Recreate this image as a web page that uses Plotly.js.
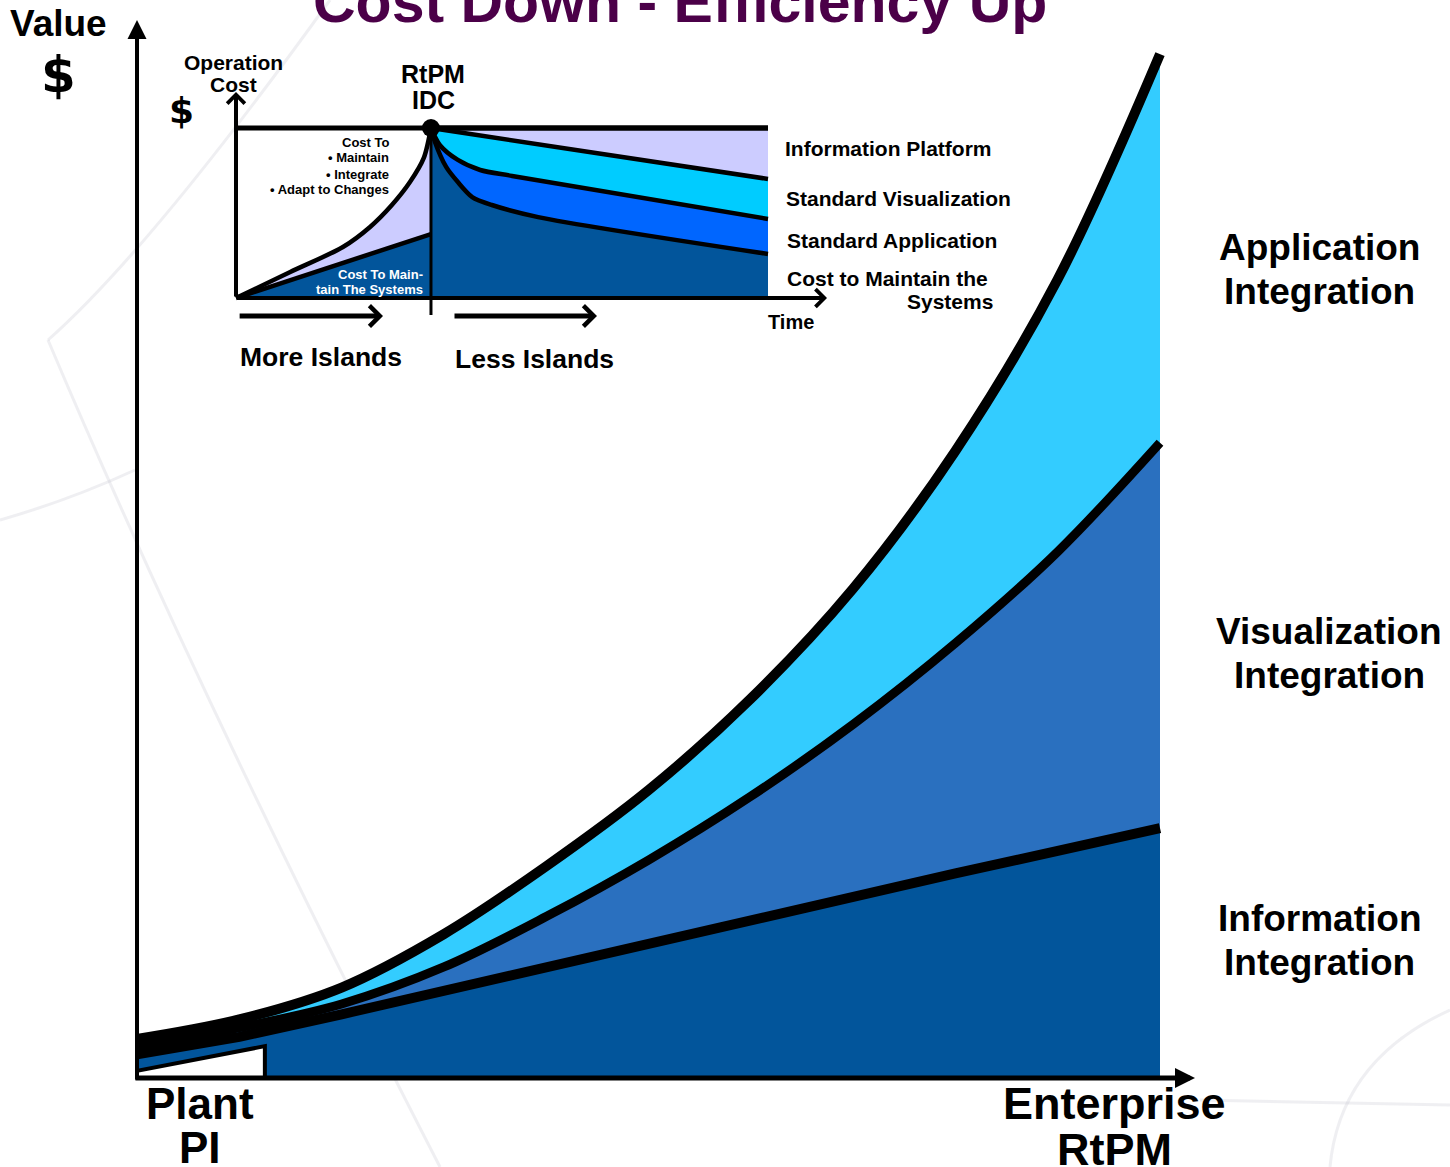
<!DOCTYPE html>
<html><head><meta charset="utf-8">
<script src="https://cdn.plot.ly/plotly-3.0.1.min.js"></script>
<style>html,body{margin:0;padding:0;background:#fff;}#chart{width:1450px;height:1167px;}</style>
</head><body><div id="chart"></div>
<script>
// ---------- Main chart data (x: 0 = Plant PI ... 100 = Enterprise RtPM, y: value) ----------
const mainX = [0, 10, 20, 30, 40, 50, 60, 70, 80, 90, 100];
const infoIntegration   = [2.3, 4.0, 6.2, 8.5, 10.8, 13.2, 15.4, 17.6, 19.9, 22.1, 24.3];
const visualIntegration = [3.0, 4.9, 7.2, 10.8, 15.7, 21.2, 27.4, 34.4, 42.3, 51.2, 61.8];
const appIntegration    = [3.8, 5.7, 8.8, 14.0, 20.6, 28.0, 36.9, 47.6, 61.0, 77.7, 99.6];
const plantBoxX = [0, 0, 12.5, 12.5, 0];
const plantBoxY = [0, 0.7, 3.1, 0, 0];

// ---------- Inset data (x: time, y: operation cost) ----------
const idcX = 36.65;
const leftCurveX = [0, 10.2, 20.1, 25.2, 29.3, 32.7, 35.3, 36.65];
const leftCurveY = [0, 15.3, 30, 41.8, 54.7, 68.2, 82.4, 100];
const leftBaseX = [0, 36.65];
const leftBaseY = [0, 37.6];
const platformX = [36.65, 100];
const platformY = [100, 70];
const stdVisX = [36.65, 38.3, 41.7, 45.9, 51.9, 100];
const stdVisY = [100, 90, 81.2, 75.3, 71.8, 46.5];
const stdAppX = [36.65, 37.4, 39.5, 41.7, 44.4, 48.1, 56.8, 100];
const stdAppY = [100, 91.8, 77.1, 68.2, 59.4, 54.7, 47.6, 25.9];
const ceilingX = [0, 100];
const ceilingY = [100, 100];

// ---------- geometry (pixel mapping of the two coordinate systems) ----------
const W = 1450, H = 1167;
const MX0 = 137, MXS = 10.23, MY0 = 1078, MYS = 10.28;   // main chart
const IX0 = 236, IXS = 5.32, IY0 = 298, IYS = 1.7;       // inset chart
const mx = p => (p - MX0) / MXS, my = p => (MY0 - p) / MYS;

const FONT = 'Liberation Sans, Arial, sans-serif';
const DARK = '#02559B', MID = '#2A70BF', LIGHT = '#33CCFF';
const CYAN = '#00CCFF', BRIGHT = '#0066FF', LAV = '#CCCCFF';

const traces = [
  // main chart
  {x: mainX, y: infoIntegration, mode: 'lines', fill: 'tozeroy', fillcolor: DARK,
   line: {color: '#000', width: 10}, hoverinfo: 'skip'},
  {x: mainX, y: visualIntegration, mode: 'lines', fill: 'tonexty', fillcolor: MID,
   line: {color: '#000', width: 9, shape: 'spline', smoothing: 1}, hoverinfo: 'skip'},
  {x: mainX, y: appIntegration, mode: 'lines', fill: 'tonexty', fillcolor: LIGHT,
   line: {color: '#000', width: 10, shape: 'spline', smoothing: 1}, hoverinfo: 'skip'},
  {x: plantBoxX, y: plantBoxY, mode: 'lines', fill: 'toself', fillcolor: '#fff',
   line: {color: '#000', width: 4}, hoverinfo: 'skip'},
  // inset
  {x: leftBaseX, y: leftBaseY, xaxis: 'x2', yaxis: 'y2', mode: 'lines', fill: 'tozeroy', fillcolor: DARK,
   line: {color: '#000', width: 4.5}, hoverinfo: 'skip'},
  {x: leftCurveX, y: leftCurveY, xaxis: 'x2', yaxis: 'y2', mode: 'lines', fill: 'tonexty', fillcolor: LAV,
   line: {color: '#000', width: 4.5, shape: 'spline', smoothing: 0.8}, hoverinfo: 'skip'},
  {x: stdAppX, y: stdAppY, xaxis: 'x2', yaxis: 'y2', mode: 'lines', fill: 'tozeroy', fillcolor: DARK,
   line: {color: '#000', width: 4.5, shape: 'spline', smoothing: 0.8}, hoverinfo: 'skip'},
  {x: stdVisX, y: stdVisY, xaxis: 'x2', yaxis: 'y2', mode: 'lines', fill: 'tonexty', fillcolor: BRIGHT,
   line: {color: '#000', width: 4.5, shape: 'spline', smoothing: 0.8}, hoverinfo: 'skip'},
  {x: platformX, y: platformY, xaxis: 'x2', yaxis: 'y2', mode: 'lines', fill: 'tonexty', fillcolor: CYAN,
   line: {color: '#000', width: 4.5}, hoverinfo: 'skip'},
  {x: [idcX, ceilingX[1]], y: [ceilingY[0], ceilingY[1]], xaxis: 'x2', yaxis: 'y2', mode: 'lines', fill: 'tonexty', fillcolor: LAV,
   line: {color: '#000', width: 5}, hoverinfo: 'skip'},
  {x: ceilingX, y: ceilingY, xaxis: 'x2', yaxis: 'y2', mode: 'lines',
   line: {color: '#000', width: 5}, hoverinfo: 'skip'},
  {x: [idcX, idcX], y: [100, -10], xaxis: 'x2', yaxis: 'y2', mode: 'lines',
   line: {color: '#000', width: 3}, hoverinfo: 'skip'},
  {x: [idcX], y: [100], xaxis: 'x2', yaxis: 'y2', mode: 'markers',
   marker: {color: '#000', size: 18}, hoverinfo: 'skip'}
];

function T(text, px, py, size, opt) {
  opt = opt || {};
  return {
    text: '<b>' + text + '</b>', x: px / W, y: 1 - py / H, xref: 'paper', yref: 'paper',
    xanchor: opt.anchor || 'center', yanchor: 'middle', showarrow: false,
    font: {family: opt.family || FONT, size: size, color: opt.color || '#000'}
  };
}
function arrow(xr, yr, x, y, ax, ay, head, width, size) {
  return {x: x, y: y, ax: ax, ay: ay, xref: xr, yref: yr, axref: xr, ayref: yr, text: '',
    showarrow: true, arrowhead: head, arrowwidth: width, arrowsize: size, arrowcolor: '#000', standoff: 0};
}
const L = {anchor: 'left'}, R = {anchor: 'right'};
const DJ = {family: 'DejaVu Sans, sans-serif'};

const annotations = [
  // axes arrows
  arrow('x', 'y', 0, my(20), 0, -0.3, 2, 4, 0.95),
  arrow('x', 'y', mx(1195), 0, -0.3, 0, 2, 5, 0.8),
  arrow('x2', 'y2', 0, (IY0 - 92) / IYS, 0, 0, 4, 4, 0.85),
  arrow('x2', 'y2', (827 - IX0) / IXS, 0, 0, 0, 4, 4, 0.85),
  arrow('x2', 'y2', (383 - IX0) / IXS, -10.6, 0.4, -10.6, 4, 5, 0.8),
  arrow('x2', 'y2', (597 - IX0) / IXS, -10.6, (453 - IX0) / IXS, -10.6, 4, 5, 0.8),
  // title & main labels
  T('Cost Down - Efficiency Up', 680, 2, 59, {color: '#4B0048'}),
  T('Value', 58, 24, 37),
  T('$', 58, 75, 50, DJ),
  T('Application', 1319, 247, 37), T('Integration', 1319, 292, 37),
  T('Visualization', 1329, 631, 37), T('Integration', 1329, 675, 37),
  T('Information', 1319, 918, 37), T('Integration', 1319, 962, 37),
  T('Plant', 200, 1103, 44), T('PI', 200, 1147, 44),
  T('Enterprise', 1114, 1103, 45), T('RtPM', 1114, 1149, 45),
  // inset labels
  T('Operation', 233, 63, 21), T('Cost', 233, 84, 21),
  T('$', 182, 110, 36, DJ),
  T('RtPM', 433, 74, 25), T('IDC', 433, 100, 25),
  T('Cost To', 391, 142, 13, R), T('• Maintain', 391, 158, 13, R),
  T('• Integrate', 391, 174, 13, R), T('• Adapt to Changes', 391, 190, 13, R),
  T('Cost To Main-', 425, 274, 13, {anchor: 'right', color: '#fff'}),
  T('tain The Systems', 425, 289, 13, {anchor: 'right', color: '#fff'}),
  T('Information Platform', 783, 148, 21, L),
  T('Standard Visualization', 784, 199, 21, L),
  T('Standard Application', 785, 241, 21, L),
  T('Cost to Maintain the', 785, 278, 21, L),
  T('Systems', 995, 302, 21, R),
  T('Time', 766, 322, 20, L),
  T('More Islands', 238, 357, 26.5, L),
  T('Less Islands', 453, 359, 26.5, L)
];

// faint background watermark strokes
const faint = {color: 'rgba(190,190,205,0.25)', width: 3};
const shapes = [
  {type: 'path', xref: 'x', yref: 'y', layer: 'below', line: faint,
   path: `M${mx(48)},${my(340)} Q${mx(200)},${my(700)} ${mx(440)},${my(1167)}`},
  {type: 'path', xref: 'x', yref: 'y', layer: 'below', line: faint,
   path: `M${mx(0)},${my(520)} Q${mx(70)},${my(500)} ${mx(135)},${my(470)}`},
  {type: 'path', xref: 'x', yref: 'y', layer: 'below', line: faint,
   path: `M${mx(48)},${my(340)} Q${mx(150)},${my(250)} ${mx(330)},${my(0)}`},
  {type: 'path', xref: 'x', yref: 'y', layer: 'below', line: faint,
   path: `M${mx(1200)},${my(1100)} L${mx(1450)},${my(1105)}`},
  {type: 'path', xref: 'x', yref: 'y', layer: 'below', line: faint,
   path: `M${mx(1330)},${my(1167)} Q${mx(1340)},${my(1060)} ${mx(1450)},${my(1010)}`}
];

const hidden = {visible: false, fixedrange: true};
const layout = {
  width: W, height: H, margin: {l: 0, r: 0, t: 0, b: 0},
  paper_bgcolor: '#fff', plot_bgcolor: 'rgba(0,0,0,0)', showlegend: false,
  xaxis: Object.assign({domain: [0, 1], range: [-MX0 / MXS, (W - MX0) / MXS]}, hidden),
  yaxis: Object.assign({domain: [0, 1], range: [-(H - MY0) / MYS, MY0 / MYS]}, hidden),
  xaxis2: Object.assign({domain: [0, 1], range: [-IX0 / IXS, (W - IX0) / IXS], anchor: 'y2'}, hidden),
  yaxis2: Object.assign({domain: [0, 1], range: [-(H - IY0) / IYS, IY0 / IYS], anchor: 'x2'}, hidden),
  annotations: annotations,
  shapes: shapes
};
Plotly.newPlot('chart', traces, layout, {displayModeBar: false, staticPlot: true});
</script></body></html>
